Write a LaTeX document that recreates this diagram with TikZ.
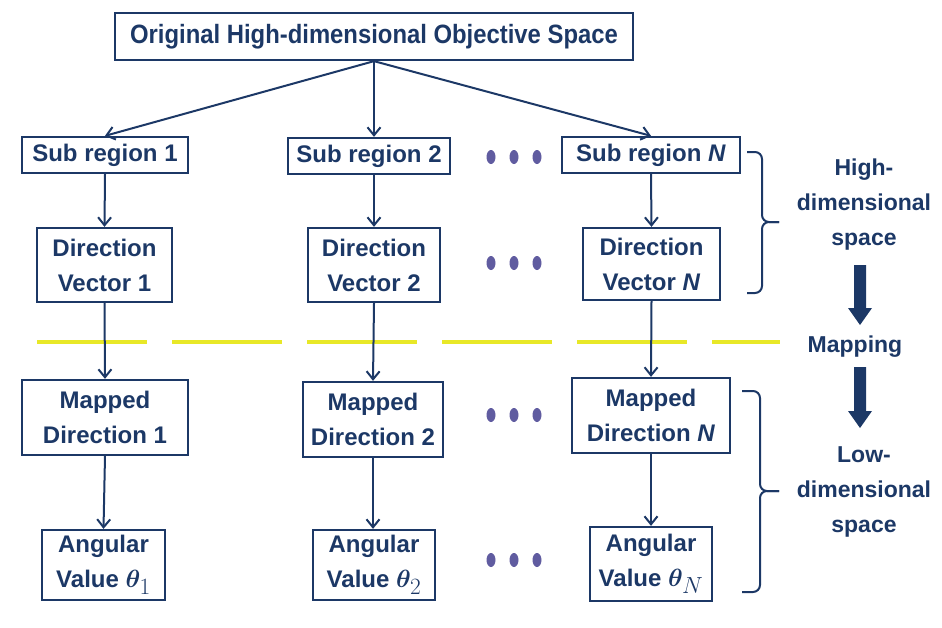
\documentclass[tikz,border=0pt]{standalone}
\usepackage{bm}
\usepackage{fontspec}
\setmainfont{Liberation Sans}
\newfontfamily\narrowfont{Liberation Sans}[FakeStretch=0.9]
\usetikzlibrary{arrows.meta}
\definecolor{navy}{RGB}{28,56,102}
\definecolor{dotc}{RGB}{96,92,160}
\definecolor{ylw}{RGB}{232,232,40}
\newcommand{\thsub}[1]{$\bm{\theta}_{\scalebox{1.35}{$\scriptstyle #1$}}$}
\begin{document}
\begin{tikzpicture}[x=1pt,y=-1pt,
  box/.style={draw=navy, line width=2.3pt, text=navy, font=\fontsize{24}{35}\selectfont\bfseries, align=center, inner sep=0pt},
  arr/.style={draw=navy, line width=2pt, -{Straight Barb[length=8pt,width=13pt,line width=2pt]}},
  lbl/.style={text=navy, font=\fontsize{23}{35}\selectfont\bfseries, align=center, inner sep=0pt},
  brc/.style={draw=navy, line width=2pt, rounded corners=7pt},
  bigarrow/.style={fill=navy}]
\useasboundingbox (0,0) rectangle (942,627);
% yellow dashed separator
\draw[ylw, line width=4pt, dash pattern=on 110pt off 25pt] (37,342) -- (780,342);
% boxes
\node[box, minimum width=518pt, minimum height=47pt, font=\narrowfont\fontsize{26.5}{30}\selectfont\bfseries] (top) at (374,36.5) {Original High-dimensional Objective Space};
\node[box, minimum width=166pt, minimum height=36pt] (s1) at (105,155) {Sub region 1};
\node[box, minimum width=162pt, minimum height=36pt] (s2) at (369,156) {Sub region 2};
\node[box, minimum width=178pt, minimum height=36pt] (sN) at (651,155) {Sub region \textit{N}};
\node[box, minimum width=135pt, minimum height=74pt] (d1) at (104.5,265) {Direction\\Vector 1};
\node[box, minimum width=132pt, minimum height=74pt] (d2) at (374,265) {Direction\\Vector 2};
\node[box, minimum width=137pt, minimum height=72pt] (dN) at (651.5,264) {Direction\\Vector \textit{N}};
\node[box, minimum width=166pt, minimum height=75pt] (m1) at (105,417.5) {Mapped\\Direction 1};
\node[box, minimum width=140pt, minimum height=75pt] (m2) at (373,419.5) {Mapped\\Direction 2};
\node[box, minimum width=158pt, minimum height=75pt] (mN) at (651,415.5) {Mapped\\Direction \textit{N}};
\node[box, minimum width=123pt, minimum height=70pt] (a1) at (103.5,565) {Angular\\Value \thsub{1}};
\node[box, minimum width=122pt, minimum height=70pt] (a2) at (374,565) {Angular\\Value \thsub{2}};
\node[box, minimum width=122pt, minimum height=74pt] (aN) at (651,564) {Angular\\Value \thsub{N}};
% connectors
\draw[arr] (top.south) -- (s1.north);
\draw[arr] (top.south) -- (s2.north -| top.south);
\draw[arr] (top.south) -- (sN.north);
\foreach \a/\b in {s1/d1,d1/m1,m1/a1,sN/dN,dN/mN,mN/aN}
  \draw[arr] (\a.south) -- (\b.north);
\draw[arr] (s2.south -| d2.north) -- (d2.north);
\draw[arr] (d2.south) -- (m2.south |- m2.north);
\draw[arr] (m2.south) -- (m2.south |- a2.north);
% dots
\foreach \y in {157,263,415,560}
  \foreach \x in {491,514,537}
    \fill[dotc] (\x,\y) ellipse (4.5pt and 7pt);
% braces
\draw[brc] (747,152) -- (762,152) -- (762,222) -- (779,222);
\draw[brc] (747,293) -- (762,293) -- (762,222) -- (779,222);
\draw[brc] (742,391) -- (760,391) -- (760,491) -- (779,491);
\draw[brc] (742,592) -- (760,592) -- (760,491) -- (779,491);
% right labels
\node[lbl] (hd) at (864,205) {High-\\dimensional\\space};
\node[lbl] (mp) at (855,347) {Mapping};
\node[lbl] (ld) at (864,492) {Low-\\dimensional\\space};
% big arrows
\fill[bigarrow] (854,265) -- (866,265) -- (866,308) -- (872,308) -- (860,325) -- (848,308) -- (854,308) -- cycle;
\fill[bigarrow] (854,367) -- (866,367) -- (866,411) -- (872,411) -- (860,428) -- (848,411) -- (854,411) -- cycle;
\end{tikzpicture}
\end{document}
